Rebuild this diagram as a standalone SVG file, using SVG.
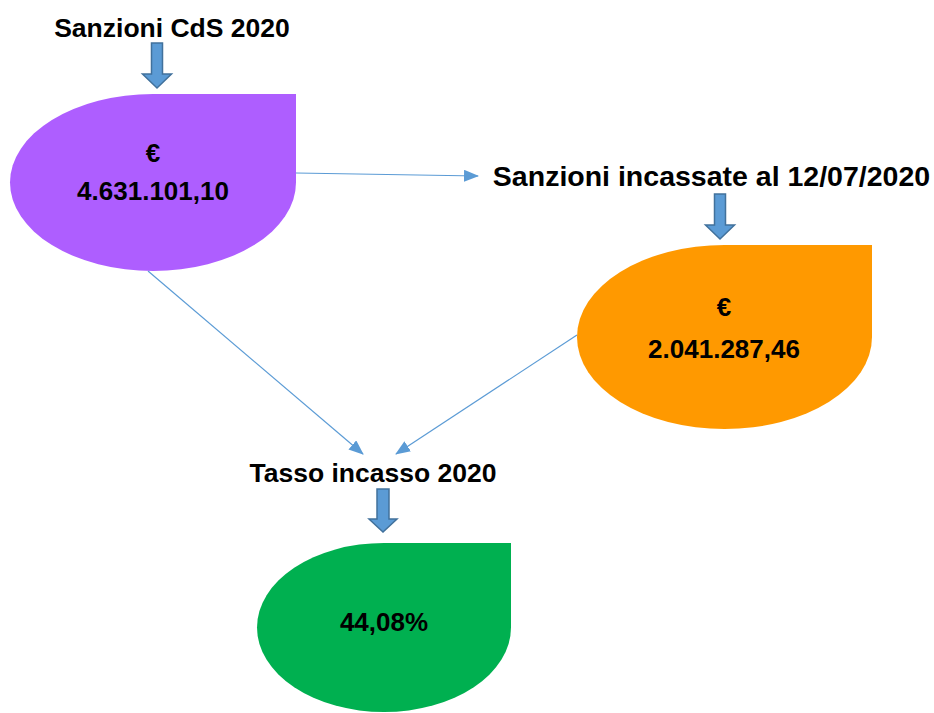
<svg xmlns="http://www.w3.org/2000/svg" width="934" height="713" viewBox="0 0 934 713">
<style>
.t{font-family:"Liberation Sans",Arial,sans-serif;font-weight:bold;fill:#000;text-anchor:middle}
.h{font-size:26.5px}
.v{font-size:26px}
.blk{fill:#5B9BD5;stroke:#41719C;stroke-width:1.5}
.c{stroke:#5B9BD5;stroke-width:1.2;fill:none}
</style>
<defs>
<marker id="ah" markerWidth="15" markerHeight="12" refX="14" refY="6" orient="auto" markerUnits="userSpaceOnUse">
<path d="M0,0 L15,6 L0,12 Z" fill="#5B9BD5"/>
</marker>
</defs>
<rect width="934" height="713" fill="#fff"/>
<g id="connectors">
<line class="c" x1="296" y1="173" x2="478" y2="176" marker-end="url(#ah)"/>
<line class="c" x1="148" y1="271" x2="363" y2="454" marker-end="url(#ah)"/>
<line class="c" x1="577" y1="335" x2="396" y2="454" marker-end="url(#ah)"/>
<path class="blk" d="M151.5,43 H162.5 V74 H171.5 L157,88 L142.5,74 H151.5 Z"/>
<path class="blk" d="M714.5,194 H725.5 V225 H734.5 L720,239 L705.5,225 H714.5 Z"/>
<path class="blk" d="M377,489 H389 V519 H397 L383,532 L369,519 H377 Z"/>
</g>
<g id="label-sanzioni">
<text class="t h" x="172" y="37">Sanzioni CdS 2020</text>
</g>
<g id="node-sanzioni">
<path d="M153,94 H296 V182.5 A143,88.5 0 1 1 153,94 Z" fill="#AE5EFF"/>
<text class="t v" x="153" y="162">€</text>
<text class="t v" x="153" y="200">4.631.101,10</text>
</g>
<g id="label-incassate">
<text class="t h" x="711.5" y="186" style="font-size:28.5px">Sanzioni incassate al 12/07/2020</text>
</g>
<g id="node-incassate">
<path d="M724.5,245 H872 V337 A147.5,92 0 1 1 724.5,245 Z" fill="#FF9900"/>
<text class="t v" x="724" y="316">€</text>
<text class="t v" x="724" y="358">2.041.287,46</text>
</g>
<g id="label-tasso">
<text class="t h" x="373" y="482">Tasso incasso 2020</text>
</g>
<g id="node-tasso">
<path d="M384,543 H511 V627.5 A127,84.5 0 1 1 384,543 Z" fill="#00B050"/>
<text class="t v" x="384" y="631">44,08%</text>
</g>
</svg>
